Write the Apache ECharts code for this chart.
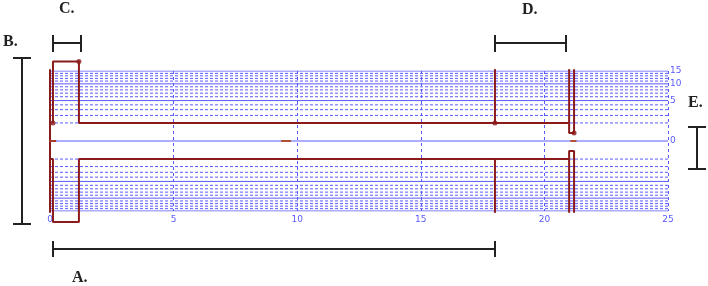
<!DOCTYPE html>
<html>
<head>
<meta charset="utf-8">
<script src="https://cdn.jsdelivr.net/npm/echarts@6/dist/echarts.min.js"></script>
<style>html,body{margin:0;padding:0;background:#fff}#c{width:708px;height:286px}</style>
</head>
<body>
<div id="c"></div>
<script>
// ---- data (original units; y axis is drawn on a square-root scale) ----
const xMin = 0, xMax = 25, xStep = 5;
const yLabelValues = [0, 5, 10, 15];
const gridSolidValues = [-15, -10, -5, 0, 5, 10, 15];
const gridDashedValues = [-14,-13,-12,-11,-9,-8,-7,-6,-4,-3,-2,-1,1,2,3,4,6,7,8,9,11,12,13,14];
const leftEdge = [[0, -15.8], [0, 15.8]];
const upperPath = [[0.12, 1], [0.12, 19.4], [1.17, 19.4], [1.17, 1], [21.0, 1], [21.0, 0.2], [21.2, 0.2], [21.2, 15.8]];
const upperWall21 = [[21.0, 1], [21.0, 15.8]];
const upperWall18 = [[18, 1], [18, 15.8]];
const lowerPath = [[0, -1], [0.12, -1], [0.12, -20.1], [1.17, -20.1], [1.17, -1], [21.0, -1]];
const lowerNotch = [[21.0, -15.8], [21.0, -0.3], [21.2, -0.3], [21.2, -15.8]];
const lowerWall18 = [[18, -1], [18, -15.8]];
const zeroMarkA = [[-0.12, 0], [0.25, 0]];
const zeroMarkB = [[9.35, 0], [9.75, 0]];
const zeroMarkC = [[21.05, 0], [21.3, 0]];
const dotPoints = [[1.17, 19.4], [0.12, 1], [18, 1], [21.2, 0.2]];
const annotationLabels = ['A.', 'B.', 'C.', 'D.', 'E.'];

// ---- helpers ----
const t = v => Math.sign(v) * Math.sqrt(Math.abs(v));
const tr = pts => pts.map(p => [p[0], t(p[1])]);
const RED = '#8b1a1a';
const BLUE = '#5a5aff';
const INK = '#222';

function redLine(pts, extra) {
  return Object.assign({
    type: 'line', data: tr(pts), symbol: 'none', clip: false, silent: true,
    lineStyle: { color: RED, width: 2 }, z: 5
  }, extra || {});
}
function gridLine(v, dashed) {
  return {
    type: 'line', data: [[xMin, t(v)], [xMax, t(v)]], symbol: 'none', silent: true, z: 1,
    lineStyle: { color: BLUE, width: 1, type: dashed ? [3, 2] : 'solid' }
  };
}

const series = [];
gridDashedValues.forEach(v => series.push(gridLine(v, true)));
gridSolidValues.forEach(v => series.push(gridLine(v, false)));
series.push(
  redLine(leftEdge), redLine(upperPath), redLine(upperWall21), redLine(upperWall18),
  redLine(lowerPath), redLine(lowerNotch), redLine(lowerWall18),
  redLine(zeroMarkA, { lineStyle: { color: '#a33a2a', width: 2 } }),
  redLine(zeroMarkB, { lineStyle: { color: '#b0503a', width: 2 } }),
  redLine(zeroMarkC, { lineStyle: { color: '#b0503a', width: 2 } }),
  { type: 'scatter', data: tr(dotPoints), symbol: 'circle', symbolSize: 5, clip: false, silent: true,
    itemStyle: { color: RED }, z: 6 }
);

function hLine(x1, x2, y) { return { type: 'line', shape: { x1, y1: y, x2, y2: y }, style: { stroke: INK, lineWidth: 2 } }; }
function vLine(x, y1, y2) { return { type: 'line', shape: { x1: x, y1, x2: x, y2 }, style: { stroke: INK, lineWidth: 2 } }; }
function label(txt, x, y) {
  return { type: 'text', x, y, style: { text: txt, fill: INK, font: 'bold 16px "Liberation Serif", "DejaVu Serif", serif', align: 'left', verticalAlign: 'middle' } };
}

const graphic = [
  // A
  hLine(53, 495, 249), vLine(53, 241, 257), vLine(495, 241, 257), label(annotationLabels[0], 72, 278),
  // B
  vLine(22, 58, 224), hLine(13, 31, 58), hLine(13, 31, 224), label(annotationLabels[1], 3, 42),
  // C
  hLine(53, 81, 43), vLine(53, 35, 52), vLine(81, 35, 52), label(annotationLabels[2], 59, 9),
  // D
  hLine(495, 566, 43), vLine(495, 35, 52), vLine(566, 35, 52), label(annotationLabels[3], 522, 10),
  // E
  vLine(697, 127, 169), hLine(688, 706, 127), hLine(688, 706, 169), label(annotationLabels[4], 688, 103)
];

const chart = echarts.init(document.getElementById('c'), null, { renderer: 'canvas' });
chart.setOption({
  animation: false,
  backgroundColor: '#fff',
  grid: { left: 50, right: 40, top: 71, bottom: 75 },
  xAxis: {
    type: 'value', min: xMin, max: xMax, interval: xStep,
    axisLine: { show: false }, axisTick: { show: false },
    axisLabel: { color: BLUE, fontSize: 9, margin: 4, fontFamily: 'DejaVu Sans', showMinLabel: true, showMaxLabel: true },
    splitLine: { show: true, lineStyle: { color: BLUE, type: [3, 3], width: 1 } }
  },
  yAxis: {
    type: 'value', position: 'right', min: -Math.sqrt(15), max: Math.sqrt(15),
    axisLine: { show: false }, axisTick: { show: false }, splitLine: { show: false },
    axisLabel: {
      color: BLUE, fontSize: 9, margin: 2, fontFamily: 'DejaVu Sans',
      customValues: yLabelValues.map(t),
      formatter: v => String(Math.round(v * v))
    }
  },
  series,
  graphic
});
</script>
</body>
</html>
